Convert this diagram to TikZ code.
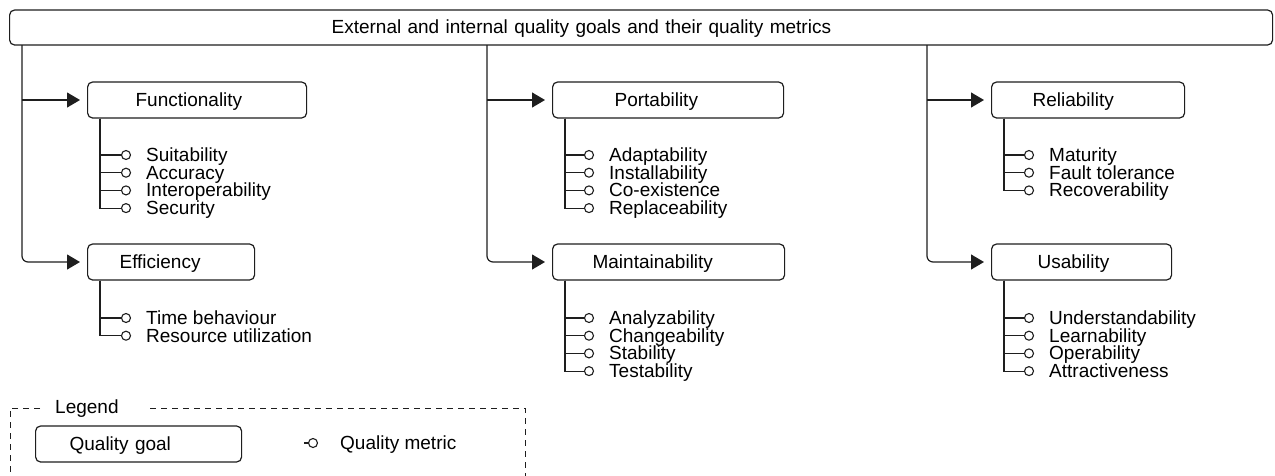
\documentclass[tikz,border=0pt]{standalone}
\usepackage{fontspec}
\setmainfont{Liberation Sans}
\usetikzlibrary{arrows.meta}
\definecolor{Ink}{HTML}{1E1E1E}

\begin{document}
\begin{tikzpicture}[x=1pt,y=-1pt,every node/.style={font=\fontsize{19}{19}\selectfont,text=black},line/.style={draw=Ink,line width=1.2pt},conn/.style={line,-{Triangle[length=13pt,width=15pt]},shorten >=7pt},goal/.style 2 args={line,rounded corners=5pt,minimum height=36pt,inner ysep=0pt,inner xsep=#1,text width=#2,text height=13pt,text depth=0.5pt,align=left,anchor=west},knob/.style={circle,draw=Ink,line width=1.1pt,fill=white,inner sep=0pt,minimum size=9pt},metric/.style={anchor=base west,inner sep=0pt},frame/.style={draw=Ink,line width=1pt,dash pattern=on 6pt off 5pt}]
\useasboundingbox (0,0) rectangle (1275,475);
\fill[white] (0,0) rectangle (1275,475);
\node[goal={322pt}{619pt},minimum height=35pt] (top) at (9,27.5) {External and internal quality goals and their quality metrics};

% quality goals
\node[goal={48pt}{123pt}] (func) at (87,100) {Functionality};
\node[goal={32pt}{103pt}] (eff) at (87,262) {Efficiency};
\node[goal={62pt}{107pt}] (port) at (552,100) {Portability};
\node[goal={40pt}{152pt}] (maint) at (552,262) {Maintainability};
\node[goal={41pt}{111pt}] (rel) at (991,100) {Reliability};
\node[goal={46pt}{88pt}] (usa) at (991,262) {Usability};

\coordinate (lroot) at (22,45);\coordinate (mroot) at (487,45);\coordinate (rroot) at (927,45);
\foreach \r/\a/\b in {lroot/func/eff,mroot/port/maint,rroot/rel/usa}{\draw[conn] (\r |- \a.west) -- (\a.west);\draw[conn,rounded corners=6pt] (\r) |- (\b.west);}

% quality metrics
\foreach \g/\cx/\y/\ms in {func/126/155/{Suitability,Accuracy,Interoperability,Security},eff/126/318/{Time behaviour,Resource utilization},port/589/155/{Adaptability,Installability,Co-existence,Replaceability},maint/589/318/{Analyzability,Changeability,Stability,Testability},rel/1029/155/{Maturity,Fault tolerance,Recoverability},usa/1029/318/{Understandability,Learnability,Operability,Attractiveness}}{
  \foreach \m [count=\i] in \ms{
    \node[knob] (\g\i) at (\cx,{\y+17.7*(\i-1)}) {};
    \draw[line] ([xshift=13pt]\g.south west) |- (\g\i);
    \node[metric] at ([xshift=20pt,yshift=-6.5pt]\g\i.center) {\m};
  }
}

% legend
\draw[frame] (40,408) -| (10,480);
\draw[frame] (150,408) -| (525,480);
\node[metric] (legend) at (55,413) {Legend};
\node[goal={34pt}{138pt}] (lgoal) at (35,444) {Quality goal};
\coordinate (ltick) at (304,443);
\node[knob] (lknob) at (313,443) {};
\draw[line] (ltick) -- (lknob);
\node[metric] (lmetric) at ([xshift=27pt,yshift=-6.5pt]lknob.center) {Quality metric};
\end{tikzpicture}
\end{document}
